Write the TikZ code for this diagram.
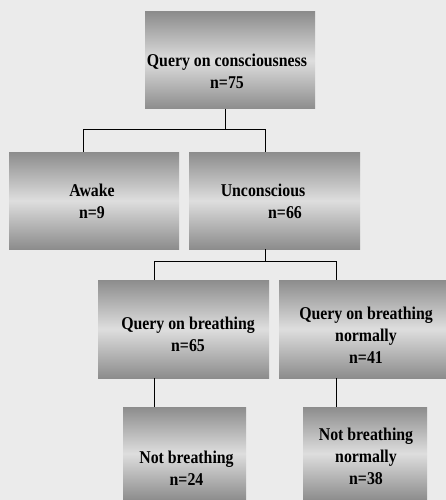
\documentclass[tikz,border=0pt]{standalone}
\usepackage{fontspec}
\setmainfont{Liberation Serif}[FakeStretch=0.88]
\definecolor{boxedge}{gray}{0.55}
\definecolor{boxmid}{gray}{0.87}
\definecolor{bgcol}{gray}{0.92}
\tikzset{
  box/.style={rectangle, inner sep=0pt, outer sep=0pt, anchor=north west,
    top color=boxedge, bottom color=boxedge, middle color=boxmid},
  lbl/.style={align=center, inner sep=0pt, font=\bfseries\fontsize{18}{22}\selectfont},
  link/.style={draw=black, line width=0.9pt}
}
\begin{document}
\begin{tikzpicture}[x=1pt,y=-1pt]
\fill[bgcol] (0,0) rectangle (446,500);
\useasboundingbox (0,0) rectangle (446,500);
% boxes
\node[box, minimum width=170pt, minimum height=97pt] (q1) at (145,12) {};
\node[box, minimum width=170pt, minimum height=97pt] (aw) at (9,152) {};
\node[box, minimum width=171pt, minimum height=97pt] (un) at (189,152) {};
\node[box, minimum width=171pt, minimum height=98pt] (qb) at (98,280) {};
\node[box, minimum width=167pt, minimum height=98pt] (qbn) at (279,280) {};
\node[box, minimum width=123pt, minimum height=93pt] (nb) at (123,407) {};
\node[box, minimum width=124pt, minimum height=93pt] (nbn) at (303,407) {};
% labels
\node[lbl] (t1) at (227,71) {Query on consciousness\\n=75};
\node[lbl] (t2) at (92,201) {Awake\\n=9};
\node[lbl] (t3) at (274.5,201) {\hspace*{-23pt}Unconscious\\\hspace*{21pt}n=66};
\node[lbl] (t4) at (188,334) {Query on breathing\\n=65};
\node[lbl] (t5) at (366,335) {Query on breathing\\normally\\n=41};
\node[lbl] (t6) at (186.5,468) {Not breathing\\n=24};
\node[lbl] (t7) at (366,456) {Not breathing\\normally\\n=38};
% connectors
\coordinate (c1) at ([xshift=-5pt]q1.south);
\draw[link] (c1) -- ++(0,20) -| ([xshift=-11pt]aw.north);
\draw[link] (c1) -- ++(0,20) -| ([xshift=-9.5pt]un.north);
\coordinate (c2) at ([xshift=-9.5pt]un.south);
\draw[link] (c2) -- ++(0,12) -| ([xshift=-29.5pt]qb.north);
\draw[link] (c2) -- ++(0,12) -| ([xshift=-26.5pt]qbn.north);
\coordinate (c3) at ([xshift=-29.5pt]qb.south);
\draw[link] (c3) -- (c3 |- nb.north);
\coordinate (c4) at ([xshift=-26.5pt]qbn.south);
\draw[link] (c4) -- (c4 |- nbn.north);
\end{tikzpicture}
\end{document}
